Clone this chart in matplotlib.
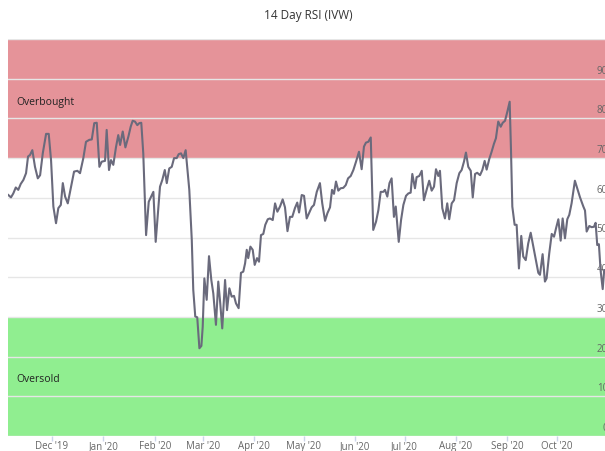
import numpy as np
import pandas as pd
import matplotlib
matplotlib.use("Agg")
import matplotlib.pyplot as plt
from matplotlib.transforms import ScaledTranslation

plt.rcParams['font.family'] = ['Open Sans', 'DejaVu Sans']

title = "14 Day RSI (IVW)"
base_date = "2019-12-01"
# days since 2019-12-01
days = [-26.4, -24.8, -23.4, -21.9, -20.4, -18.9, -17.3, -15.7, -14.5, -13.3,
        -11.9, -10.3, -8.6, -7.2, -5.6, -3.6, -2.0, -0.6, 0.8, 2.4,
        3.8, 5.3, 6.5, 7.9, 9.5, 11.3, 13.3, 15.3, 16.9, 18.9,
        20.5, 22.5, 24.0, 25.5, 27.0, 28.6, 30.0, 32.0, 33.0, 34.4,
        35.6, 37.0, 38.6, 40.0, 41.1, 42.7, 44.3, 46.1, 47.5, 48.7,
        50.1, 51.5, 52.7, 53.9, 55.1, 56.8, 58.4, 59.6, 61.2, 62.6,
        63.8, 65.2, 66.6, 68.1, 69.3, 70.8, 72.3, 73.7, 75.3, 76.5,
        77.9, 79.3, 80.7, 82.9, 84.4, 85.3, 86.5, 87.7, 89.0, 90.2,
        91.0, 92.0, 93.4, 94.8, 96.2, 97.4, 99.0, 100.4, 101.6, 102.8,
        104.5, 105.7, 107.1, 108.5, 109.9, 111.1, 112.7, 114.1, 115.5, 116.6,
        117.6, 118.5, 119.8, 121.2, 122.4, 123.8, 125.0, 126.2, 127.6, 128.8,
        130.3, 131.6, 133.3, 134.7, 136.1, 137.7, 139.3, 140.7, 142.2, 143.7,
        145.1, 146.7, 148.1, 149.2, 150.8, 152.2, 153.8, 155.4, 156.8, 158.2,
        159.9, 161.8, 163.2, 164.9, 166.3, 167.9, 169.1, 170.3, 171.5, 172.9,
        174.3, 175.9, 177.4, 178.8, 180.4, 182.0, 183.6, 185.4, 187.0, 188.4,
        189.6, 191.0, 192.5, 194.0, 195.7, 197.1, 198.5, 200.1, 201.1, 202.5,
        203.8, 205.1, 206.5, 207.6, 209.4, 210.8, 212.2, 213.8, 215.2, 216.6,
        217.6, 219.2, 220.2, 221.8, 223.3, 224.6, 226.3, 227.8, 229.3, 230.7,
        231.9, 233.3, 234.3, 235.7, 237.3, 238.7, 239.9, 241.4, 242.8, 244.4,
        246.0, 247.4, 248.8, 250.0, 251.4, 252.9, 254.1, 255.5, 256.8, 258.5,
        259.9, 261.3, 262.5, 264.1, 265.5, 266.9, 268.1, 269.5, 271.0, 272.2,
        273.6, 275.0, 276.4, 277.2, 278.0, 279.4, 280.6, 282.0, 283.4, 284.6,
        286.1, 287.6, 289.1, 290.7, 292.3, 293.7, 294.7, 296.3, 297.7, 298.7,
        300.3, 301.8, 303.2, 304.4, 305.8, 307.2, 308.4, 309.8, 311.2, 312.4,
        313.8, 315.8, 317.2, 318.9, 320.9, 321.9, 322.9, 324.5, 325.9, 327.3,
        328.3, 329.3, 330.3, 331.3, 332.6, 333.5]
rsi = [60.7, 60.1, 61.1, 62.6, 62.0, 63.5, 64.5, 66.2, 70.4, 70.8,
       72.0, 67.8, 64.9, 65.7, 71.2, 76.1, 76.1, 69.5, 57.8, 53.6,
       57.4, 58.2, 63.7, 60.3, 58.6, 62.4, 66.6, 66.8, 66.2, 70.0,
       74.1, 74.6, 74.7, 78.8, 78.9, 67.8, 69.1, 69.3, 77.1, 67.0,
       69.5, 68.3, 72.7, 75.8, 73.3, 76.7, 72.7, 75.4, 77.9, 79.4,
       79.2, 78.3, 78.8, 78.9, 71.2, 50.6, 59.0, 60.1, 61.5, 48.9,
       55.2, 62.8, 64.5, 67.0, 63.7, 67.4, 67.8, 70.0, 70.0, 71.0,
       71.2, 70.0, 72.0, 62.0, 49.4, 36.8, 30.1, 29.9, 22.1, 22.7,
       27.5, 39.7, 34.3, 45.3, 39.3, 35.9, 28.0, 38.9, 33.4, 27.1,
       39.3, 31.7, 37.2, 35.1, 35.3, 33.4, 32.2, 41.1, 41.4, 43.5,
       46.9, 44.8, 47.7, 46.9, 43.1, 44.8, 43.9, 50.6, 50.9, 53.2,
       54.6, 54.8, 54.4, 58.6, 56.5, 57.8, 59.6, 57.6, 51.6, 55.2,
       55.2, 57.4, 58.8, 56.3, 60.7, 60.5, 54.8, 56.3, 57.6, 58.2,
       61.5, 63.7, 58.6, 54.2, 56.1, 57.6, 62.0, 61.0, 64.1, 61.8,
       62.4, 62.5, 63.2, 64.9, 65.5, 67.0, 69.1, 71.6, 67.2, 72.9,
       73.9, 74.1, 75.2, 51.9, 54.0, 56.9, 61.5, 61.5, 62.0, 60.3,
       63.7, 64.9, 55.2, 57.8, 48.9, 54.4, 58.2, 60.5, 61.1, 61.3,
       66.0, 62.4, 65.2, 65.5, 66.8, 59.4, 62.1, 64.3, 61.8, 62.8,
       67.2, 65.5, 66.8, 57.4, 54.8, 58.6, 54.6, 58.6, 59.4, 63.7,
       66.2, 67.0, 69.1, 71.4, 67.8, 66.8, 60.1, 66.0, 66.3, 65.7,
       67.0, 69.3, 67.1, 69.8, 71.6, 73.6, 75.0, 79.2, 77.9, 78.9,
       79.4, 81.7, 84.2, 72.0, 57.8, 53.2, 53.2, 42.2, 50.4, 45.2,
       44.3, 48.5, 51.2, 47.7, 44.3, 41.1, 40.6, 45.8, 38.9, 39.7,
       46.0, 50.9, 50.2, 52.3, 54.6, 49.2, 54.8, 49.8, 54.6, 55.7,
       58.6, 64.3, 62.4, 60.1, 57.8, 56.8, 51.5, 52.9, 52.6, 52.7,
       53.7, 48.1, 48.3, 41.8, 37.0, 41.8]
month_ticks = ["2019-12-01", "2020-01-01", "2020-02-01", "2020-03-01", "2020-04-01",
               "2020-05-01", "2020-06-01", "2020-07-01", "2020-08-01", "2020-09-01",
               "2020-10-01"]
month_labels = ["Dec '19", "Jan '20", "Feb '20", "Mar '20", "Apr '20", "May '20",
                "Jun '20", "Jul '20", "Aug '20", "Sep '20", "Oct '20"]
overbought_range = (70, 100)
oversold_range = (0, 30)
y_ticks = [0, 10, 20, 30, 40, 50, 60, 70, 80, 90, 100]
y_labels = ["0", "10", "20", "30", "40", "50", "60", "70", "80", "90", ""]
x_range_days = (-26.6, 337.0)

base = pd.Timestamp(base_date)
dates = base + pd.to_timedelta(days, unit="D")

W, H = 605, 451
fig = plt.figure(figsize=(W / 100, H / 100), dpi=100)
left_px, right_px, top_px, bottom_px = 8, 610, 39, 436
ax = fig.add_axes([left_px / W, 1 - bottom_px / H, (right_px - left_px) / W, (bottom_px - top_px) / H])

ax.axhspan(*overbought_range, color="#e59399", zorder=0, lw=0)
ax.axhspan(*oversold_range, color="#90ee90", zorder=0, lw=0)

ax.plot(dates, rsi, color="#6a6a7c", lw=1.5, zorder=3)

ax.set_xlim(base + pd.Timedelta(days=x_range_days[0]), base + pd.Timedelta(days=x_range_days[1]))
ax.set_ylim(0, 100)

ax.set_yticks(y_ticks)
ax.set_yticklabels(y_labels)
ax.yaxis.tick_right()
ax.tick_params(axis="y", length=0, pad=-1.5, labelsize=7, labelcolor="#666666")
for lab in ax.get_yticklabels():
    lab.set_horizontalalignment("right")
    lab.set_verticalalignment("bottom")
    lab.set_transform(lab.get_transform() + ScaledTranslation(0, 1.5 / 72, fig.dpi_scale_trans))
ax.grid(axis="y", color="#e6e6e6", lw=1, zorder=1)
ax.set_axisbelow(False)
for l in ax.get_ygridlines():
    l.set_zorder(1)

ax.set_xticks(pd.to_datetime(month_ticks))
ax.set_xticklabels(month_labels)
ax.tick_params(axis="x", length=3.5, width=1, color="#ccd6eb", pad=0, labelsize=7, labelcolor="#666666")

for s in ax.spines.values():
    s.set_visible(False)

ax.text((16 - left_px) / (right_px - left_px), 84, "Overbought", transform=ax.get_yaxis_transform(),
        fontsize=7.5, color="#222222", va="center", ha="left", zorder=4)
ax.text((16 - left_px) / (right_px - left_px), 14.2, "Oversold", transform=ax.get_yaxis_transform(),
        fontsize=7.5, color="#222222", va="center", ha="left", zorder=4)

fig.text(308 / W, 1 - 16 / H, title, ha="center", va="center", fontsize=8.5, color="#333333")

fig.savefig("out.png", dpi=100)
